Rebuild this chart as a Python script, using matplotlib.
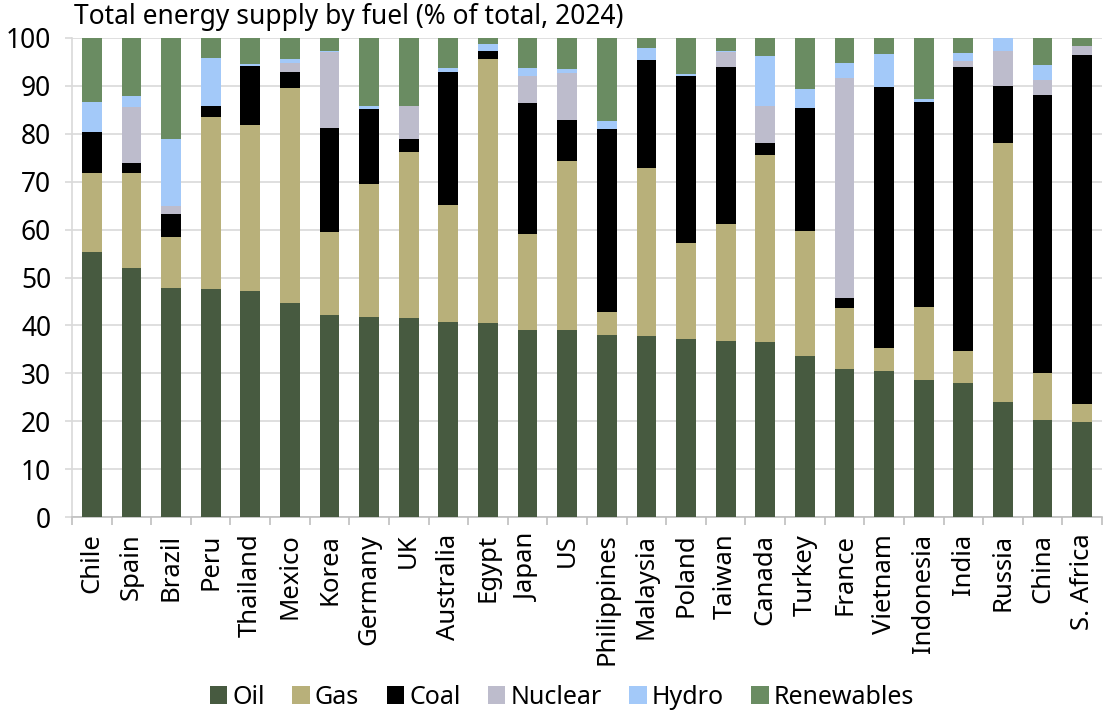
import numpy as np
import matplotlib.pyplot as plt

# Datos (% del total)
paises = ['Chile', 'Spain', 'Brazil', 'Peru', 'Thailand', 'Mexico', 'Korea',
          'Germany', 'UK', 'Australia', 'Egypt', 'Japan', 'US', 'Philippines',
          'Malaysia', 'Poland', 'Taiwan', 'Canada', 'Turkey', 'France',
          'Vietnam', 'Indonesia', 'India', 'Russia', 'China', 'S. Africa']

oil = [55.4, 52.0, 47.9, 47.6, 47.2, 44.6, 42.1, 41.7, 41.5, 40.8, 40.6, 39.0, 39.0,
       37.9, 37.7, 37.2, 36.7, 36.5, 33.6, 30.9, 30.4, 28.5, 28.0, 24.1, 20.2, 19.9]
gas = [16.5, 19.9, 10.6, 36.0, 34.7, 45.0, 17.5, 27.9, 34.7, 24.4, 55.0, 20.0, 35.3,
       4.8, 35.1, 19.9, 24.5, 39.1, 26.2, 12.8, 4.9, 15.4, 6.7, 54.0, 9.9, 3.7]
coal = [8.5, 1.9, 4.8, 2.2, 12.2, 3.3, 21.6, 15.6, 2.7, 27.7, 1.7, 27.5, 8.6,
        38.4, 22.6, 34.9, 32.7, 2.4, 25.5, 2.0, 54.4, 42.7, 59.2, 11.8, 58.0, 72.8]
nuclear = [0, 11.7, 1.7, 0, 0, 1.8, 15.8, 0, 6.8, 0, 0, 5.6, 9.7,
           0, 0, 0, 3.1, 7.8, 0, 46.0, 0, 0, 1.4, 7.4, 3.1, 2.0]
hydro = [6.2, 2.3, 14.0, 10.1, 0.4, 1.0, 0.2, 0.7, 0.2, 0.9, 1.4, 1.7, 1.0,
         1.6, 2.6, 0.4, 0.2, 10.5, 4.0, 3.0, 7.0, 0.7, 1.5, 2.7, 3.2, 0]
renovables = [13.4, 12.2, 21.0, 4.1, 5.5, 4.3, 2.8, 14.1, 14.1, 6.2, 1.3, 6.2, 6.4,
              17.3, 2.0, 7.6, 2.8, 3.7, 10.7, 5.3, 3.3, 12.7, 3.2, 0, 5.6, 1.6]

series = [('Oil', oil, '#475a40'), ('Gas', gas, '#b8b07a'), ('Coal', coal, '#000000'),
          ('Nuclear', nuclear, '#bdbccc'), ('Hydro', hydro, '#a3c9f9'),
          ('Renewables', renovables, '#6a8c62')]

plt.rcParams['font.family'] = ['Noto Sans', 'DejaVu Sans']

fig = plt.figure(figsize=(11.16, 7.21), dpi=100)
ax = fig.add_axes([72 / 1116, 1 - 517 / 721, 1030 / 1116, 479 / 721])

x = np.arange(len(paises))
base = np.zeros(len(paises))
for nombre, valores, color in series:
    ax.bar(x, valores, bottom=base, width=0.5, color=color, label=nombre, zorder=3)
    base = base + np.array(valores)

ax.set_xlim(-0.5, len(paises) - 0.5)
ax.set_ylim(0, 100)
ax.set_yticks(np.arange(0, 101, 10))
ax.grid(True, axis='y', color='#d9d9d9', linewidth=1.2, zorder=0)

# ticks del eje x entre categorias
ax.set_xticks(x)
ax.set_xticklabels(paises, rotation=90, fontsize=18.5)
ax.set_xticks(np.arange(-0.5, len(paises)), minor=True)
ax.tick_params(axis='x', which='major', length=0, pad=12)
ax.tick_params(axis='x', which='minor', length=6, color='#bfbfbf', width=1.2)
ax.tick_params(axis='y', length=5, color='#d9d9d9', width=1.2, labelsize=19, pad=10)

for lado in ['top', 'right']:
    ax.spines[lado].set_visible(False)
ax.spines['left'].set_color('#d9d9d9')
ax.spines['bottom'].set_color('#bfbfbf')
ax.spines['left'].set_linewidth(1.2)
ax.spines['bottom'].set_linewidth(1.2)

fig.text(74 / 1116, 1 - 17 / 721, 'Total energy supply by fuel (% of total, 2024)',
         fontsize=19, va='center', ha='left')

fig.legend(loc='center', bbox_to_anchor=(562 / 1116, 1 - 697 / 721), ncol=6,
           frameon=False, fontsize=18, handlelength=0.7, handleheight=0.7,
           handletextpad=0.2, columnspacing=1.1)

fig.savefig('out.png', dpi=100)
